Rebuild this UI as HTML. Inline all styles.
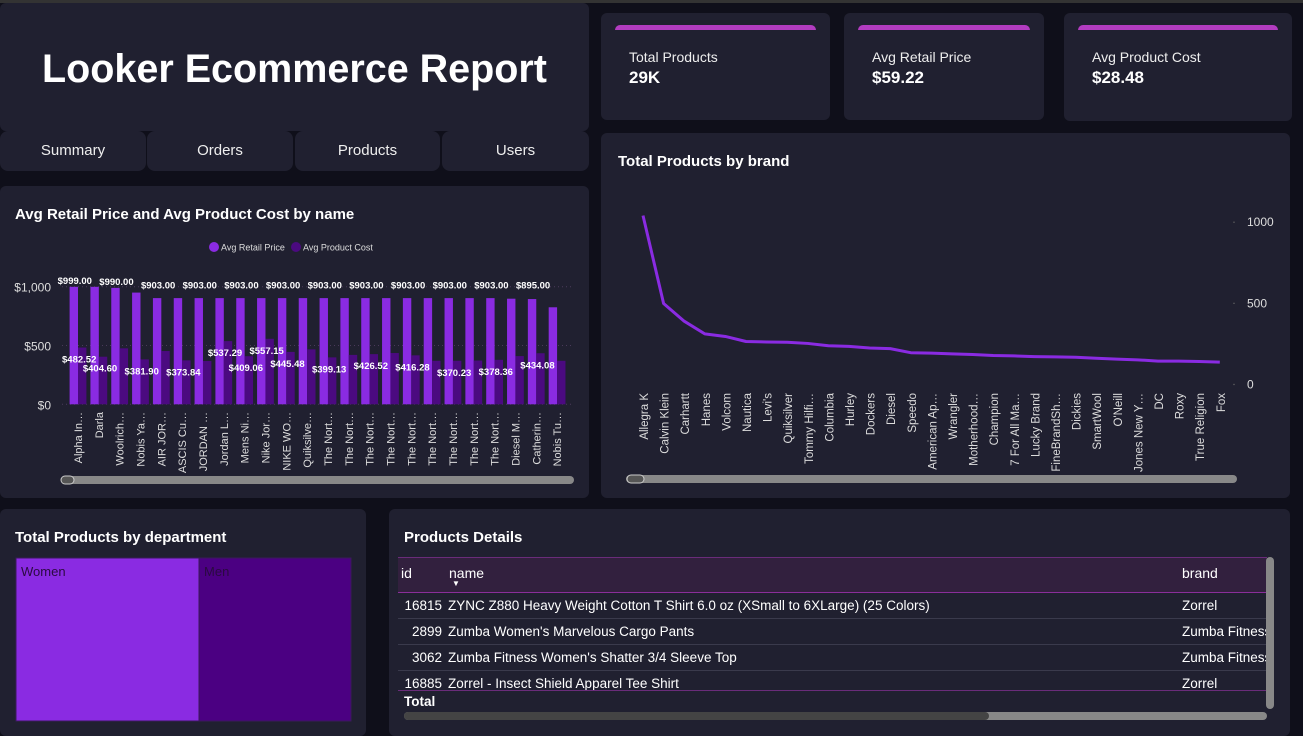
<!DOCTYPE html>
<html><head><meta charset="utf-8">
<style>
*{box-sizing:border-box;margin:0;padding:0}
body{width:1303px;height:736px;background:#0f0f1a;font-family:"Liberation Sans",sans-serif;color:#fff;position:relative;overflow:hidden}
.card{position:absolute;background:#202030;border-radius:6px}
.abs{position:absolute}
.ttl{position:absolute;font-weight:bold;font-size:15px;color:#fff;z-index:6}
.nav{position:absolute;top:131px;height:40px;background:#202030;border-radius:8px;font-size:15px;text-align:center;line-height:40px;color:#eee}
.kpi .bar{position:absolute;left:14px;right:14px;top:12px;height:5px;background:#b23cc0;border-radius:5px 5px 0 0}
.kpi .l{position:absolute;left:28px;top:36px;font-size:14px;color:#eee}
.kpi .v{position:absolute;left:28px;top:55px;font-size:17px;font-weight:bold}
svg text{font-family:"Liberation Sans",sans-serif}
.row{position:absolute;left:0;right:0;height:26px;border-bottom:1px solid #3a3a4c;font-size:13.5px;line-height:26px}
</style></head><body>
<div class="abs" style="left:0;top:0;width:1303px;height:3px;background:#333"></div>
<div class="card" style="left:0;top:3px;width:589px;height:128px">
<div class="abs" style="left:0;right:0;top:44px;text-align:center;font-size:39.5px;font-weight:bold">Looker Ecommerce Report</div></div>
<div class="nav" style="left:0;width:146px">Summary</div>
<div class="nav" style="left:147px;width:146px">Orders</div>
<div class="nav" style="left:295px;width:145px">Products</div>
<div class="nav" style="left:442px;width:147px">Users</div>

<div class="card kpi" style="left:601px;top:13px;width:229px;height:107px"><div class="bar"></div><div class="l">Total Products</div><div class="v">29K</div></div>
<div class="card kpi" style="left:844px;top:13px;width:200px;height:107px"><div class="bar"></div><div class="l">Avg Retail Price</div><div class="v">$59.22</div></div>
<div class="card kpi" style="left:1064px;top:13px;width:228px;height:108px"><div class="bar"></div><div class="l">Avg Product Cost</div><div class="v">$28.48</div></div>

<div class="card" style="left:0;top:186px;width:589px;height:312px"></div>
<div class="ttl" style="left:15px;top:206px">Avg Retail Price and Avg Product Cost by name</div>
<div class="card" style="left:601px;top:133px;width:689px;height:365px"></div>
<div class="ttl" style="left:618px;top:153px">Total Products by brand</div>

<div class="card" style="left:0;top:509px;width:366px;height:227px"></div>
<div class="ttl" style="left:15px;top:529px">Total Products by department</div>

<svg class="abs" id="charts" style="left:0;top:0;z-index:5" width="1303" height="736"></svg>

<div class="card" style="left:389px;top:509px;width:901px;height:227px;z-index:7">
<div class="ttl" style="left:15px;top:20px">Products Details</div>
<div class="abs" style="left:9px;top:48px;width:869px;height:152px;overflow:hidden">
<div class="abs" style="left:0;right:0;top:0;height:36px;background:#32203e;border-top:1px solid #6a2c7a;border-bottom:1px solid #8a2e9a;font-size:14px">
<span class="abs" style="left:3px;top:7px">id</span><span class="abs" style="left:51px;top:7px">name</span><span class="abs" style="left:54px;top:21px;font-size:8px">▼</span><span class="abs" style="left:784px;top:7px">brand</span></div>
<div class="row" style="top:36px"><span class="abs" style="left:0;width:44px;text-align:right">16815</span><span class="abs" style="left:50px">ZYNC Z880 Heavy Weight Cotton T Shirt 6.0 oz (XSmall to 6XLarge) (25 Colors)</span><span class="abs" style="left:784px">Zorrel</span></div>
<div class="row" style="top:62px"><span class="abs" style="left:0;width:44px;text-align:right">2899</span><span class="abs" style="left:50px">Zumba Women's Marvelous Cargo Pants</span><span class="abs" style="left:784px;white-space:nowrap">Zumba Fitness</span></div>
<div class="row" style="top:88px"><span class="abs" style="left:0;width:44px;text-align:right">3062</span><span class="abs" style="left:50px">Zumba Fitness Women's Shatter 3/4 Sleeve Top</span><span class="abs" style="left:784px;white-space:nowrap">Zumba Fitness</span></div>
<div class="row" style="top:114px;height:20px;overflow:hidden;border-bottom:1px solid #6a2c7a"><span class="abs" style="left:0;width:44px;text-align:right">16885</span><span class="abs" style="left:50px">Zorrel - Insect Shield Apparel Tee Shirt</span><span class="abs" style="left:784px">Zorrel</span></div>
<div class="abs" style="left:6px;top:137px;font-weight:bold;font-size:13.5px">Total</div>
</div>
<div class="abs" style="left:877px;top:48px;width:8px;height:152px;background:#888;border-radius:4px"></div>
<div class="abs" style="left:15px;top:203px;width:863px;height:8px;background:#888;border-radius:4px"><div style="width:585px;height:8px;background:#444;border-radius:4px"></div></div>
</div>

<script>
const barNames=["Alpha In…","Darla","Woolrich…","Nobis Ya…","AIR JOR…","ASCIS Cu…","JORDAN …","Jordan L…","Mens Ni…","Nike Jor…","NIKE WO…","Quiksilve…","The Nort…","The Nort…","The Nort…","The Nort…","The Nort…","The Nort…","The Nort…","The Nort…","The Nort…","Diesel M…","Catherin…","Nobis Tu…"];
const retail=[999,999,990,950,903,903,903,903,903,903,903,903,903,903,903,903,903,903,903,903,903,898,895,825];
const cost=[482.52,404.60,476,381.90,453,373.84,368,537.29,409.06,557.15,445.48,467,399.13,420,426.52,436,416.28,370,370.23,372,378.36,410,434.08,370];
const retailLabelIdx=[0,2,4,6,8,10,12,14,16,18,20,22];
const costLabelIdx=[0,1,3,5,7,8,9,10,12,14,16,18,20,22];
const barTicks=[0,500,1000];
const barTickLabels=["$0","$500","$1,000"];

const brands=["Allegra K","Calvin Klein","Carhartt","Hanes","Volcom","Nautica","Levi's","Quiksilver","Tommy Hilfi…","Columbia","Hurley","Dockers","Diesel","Speedo","American Ap…","Wrangler","Motherhood…","Champion","7 For All Ma…","Lucky Brand","FineBrandSh…","Dickies","SmartWool","O'Neill","Jones New Y…","DC","Roxy","True Religion","Fox"];
const brandCounts=[1041,499,390,312,296,265,262,260,253,239,235,225,221,196,193,189,185,179,176,172,170,168,162,156,152,144,144,142,138];
const lineTicks=[0,500,1000];

const depts=["Women","Men"];
const deptCounts=[15900,13200];

const svg=document.getElementById('charts');
const NS="http://www.w3.org/2000/svg";
function mk(tag,attrs,parent){const e=document.createElementNS(NS,tag);for(const k in attrs)e.setAttribute(k,attrs[k]);(parent||svg).appendChild(e);return e;}
function fmt(v){return "$"+v.toFixed(2).replace(/\B(?=(\d{3})+(?!\d))/g,",");}

// ---- bar chart
const by=v=>404.3-v*0.1176;
const bx=i=>69.6+i*20.83;
const bw=8.4;
let e;
barTicks.forEach((t,k)=>{
 e=mk('line',{x1:62,x2:572,y1:by(t),y2:by(t),stroke:'#4a3a5a','stroke-dasharray':'1 3'});
 
 
 e=mk('text',{x:51,y:by(t)+5,'text-anchor':'end','font-size':12,fill:'#ddd'});e.textContent=barTickLabels[k];
 
 
});
retail.forEach((v,i)=>{
 e=mk('rect',{x:bx(i),y:by(v),width:bw,height:by(0)-by(v),fill:'#8a2be2'});
 
 
 e=mk('rect',{x:bx(i)+bw,y:by(cost[i]),width:bw,height:by(0)-by(cost[i]),fill:'#4b0a80'});
 
 
 e=mk('text',{transform:`translate(${bx(i)+bw+4},${412}) rotate(-90)`,'text-anchor':'end','font-size':11,fill:'#ddd'});e.textContent=barNames[i];
 
 
});
retailLabelIdx.forEach(i=>{
 e=mk('text',{x:bx(i)+bw/2+1,y:by(Math.max(retail[i],960))-3,'text-anchor':'middle','font-size':9.5,'font-weight':'bold',fill:'#fff'});e.textContent=fmt(retail[i]);
 
 
});
costLabelIdx.forEach(i=>{
 e=mk('text',{x:bx(i)+bw*1.5-3,y:by(cost[i])+15,'text-anchor':'middle','font-size':9.5,'font-weight':'bold',fill:'#fff'});e.textContent=fmt(cost[i]);
 
 
});
[["Avg Retail Price","#8a2be2",209],["Avg Product Cost","#4b0a80",291]].forEach(([n,c,x])=>{
 e=mk('circle',{cx:x+5,cy:247,r:5,fill:c});
 
 
 e=mk('text',{x:x+12,y:250.5,'font-size':9,fill:'#ddd'});e.textContent=n;
 
 
});
e=mk('rect',{x:61,y:476,width:513,height:8,rx:4,fill:'#888'});


mk('rect',{x:61,y:476,width:13,height:8,rx:4,fill:'#555',stroke:'#ccc','stroke-width':1});

// ---- line chart
const ly=v=>384.5-v*0.1623;
const lx=i=>643+i*20.6;
lineTicks.forEach(t=>{
 e=mk('text',{x:1247,y:ly(t)+4,'font-size':12,fill:'#ddd'});e.textContent=t;
 
 
 mk('circle',{cx:1234,cy:ly(t),r:0.7,fill:'#666'});
});
e=mk('polyline',{points:brandCounts.map((v,i)=>lx(i)+","+ly(v)).join(" "),fill:'none',stroke:'#8a2be2','stroke-width':3,'stroke-linejoin':'round'});


brands.forEach((b,i)=>{
 e=mk('text',{transform:`translate(${lx(i)+5},${393}) rotate(-90)`,'text-anchor':'end','font-size':11.5,fill:'#ddd'});e.textContent=b;
 
 
});
e=mk('rect',{x:626,y:475,width:611,height:8,rx:4,fill:'#888'});


mk('rect',{x:627,y:475,width:17,height:8,rx:4,fill:'#555',stroke:'#ccc','stroke-width':1});

// ---- treemap
const tot=deptCounts.reduce((a,b)=>a+b,0);
let tx=16;const tw=335;
depts.forEach((d,i)=>{
 const w=tw*deptCounts[i]/tot;
 e=mk('rect',{x:tx,y:558,width:w,height:163,fill:i==0?'#8a2be2':'#4b0082',stroke:'#3a1a5a','stroke-width':1});
 
 
 e=mk('text',{x:tx+5,y:576,'font-size':13,fill:'#2a0a40'});e.textContent=d;
 
 
 tx+=w;
});
</script>
</body></html>
